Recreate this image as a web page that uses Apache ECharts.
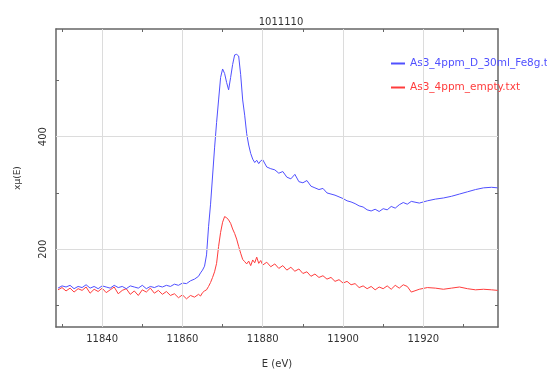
<!DOCTYPE html>
<html>
<head>
<meta charset="utf-8">
<script src="https://cdn.jsdelivr.net/npm/echarts@6/dist/echarts.min.js"></script>
<style>
  html, body { margin: 0; padding: 0; background: #fff; }
  #chart { width: 547px; height: 374px; }
</style>
</head>
<body>
<div id="chart"></div>
<script>
// energies (eV)
const energy = [
  11829, 11830, 11831, 11832, 11833, 11834, 11835, 11836, 11837, 11838,
  11839, 11840, 11841, 11842, 11843, 11844, 11845, 11846, 11847, 11848,
  11849, 11850, 11851, 11852, 11853, 11854, 11855, 11856, 11857, 11858,
  11859, 11860, 11861, 11862, 11863,
  11864, 11864.5, 11865, 11865.5, 11866, 11866.5, 11867, 11867.5, 11868, 11868.5,
  11869, 11869.5, 11870, 11870.5, 11871, 11871.5, 11872, 11872.5, 11873, 11873.5,
  11874, 11874.5, 11875, 11875.5, 11876, 11876.5, 11877, 11877.5, 11878, 11878.5,
  11879, 11879.5,
  11880, 11881, 11882, 11883, 11884, 11885, 11886, 11887, 11888, 11889,
  11890, 11891, 11892, 11893, 11894, 11895, 11896, 11897, 11898, 11899,
  11900, 11901, 11902, 11903, 11904, 11905, 11906, 11907, 11908, 11909,
  11910, 11911, 11912, 11913, 11914, 11915, 11916, 11917,
  11919, 11921, 11923, 11925, 11927, 11929, 11931, 11933, 11935, 11937, 11938.5
];

// As3_4ppm_D_30ml_Fe8g (blue)
const fe8g = [
  131, 135, 133, 136, 130, 134, 132, 137, 131, 134,
  130, 135, 133, 131, 136, 132, 134, 130, 135, 133,
  131, 136, 130, 134, 132, 135, 133, 136, 134, 138,
  136, 140, 139, 144, 147,
  152, 158, 163, 170, 190, 240, 280, 330, 380, 425,
  465, 505, 520, 512, 496, 483, 505, 528, 545, 546,
  543, 510, 465, 438, 405, 385, 370, 360, 354, 358,
  352, 357,
  359, 346, 343, 341, 335, 338, 328, 325, 333, 320,
  318, 322, 312, 309, 306, 308, 300, 298, 296, 293,
  290, 286, 284, 281, 277, 275, 270, 268, 271, 267,
  272, 270, 276, 273, 279, 283, 280, 285,
  282, 286, 289, 291, 294, 298, 302, 306, 309, 310, 309
];

// As3_4ppm_empty (red)
const empty = [
  128, 132, 126, 131, 124, 130, 127, 133, 122, 129,
  125, 131, 123, 128, 133, 121, 127, 130, 120, 126,
  118, 128, 124, 131, 122, 127, 120, 125, 118, 121,
  114, 119, 112, 118, 115,
  120, 117, 123, 126, 128, 134, 141, 150, 160, 175,
  205, 230, 248, 258, 256, 252, 246, 236, 228, 218,
  205, 193, 182, 178, 174, 179, 171, 181, 176, 186,
  175, 180,
  172, 177, 169, 174, 166, 171, 163, 168, 161, 165,
  157, 160, 152, 156, 150, 153, 147, 150, 143, 146,
  140, 143, 137, 139, 132, 135, 130, 134, 128, 133,
  130, 135, 129, 136, 131, 137, 134, 124,
  129, 132, 131, 129, 131, 133, 130, 128, 129, 128, 127
];

const xTicks = [11830, 11840, 11850, 11860, 11870, 11880, 11890, 11900, 11910, 11920, 11930];
const xLabels = [11840, 11860, 11880, 11900, 11920];
const yTicks = [100, 200, 300, 400, 500];
const yLabels = [200, 400];

const names = ['As3_4ppm_D_30ml_Fe8g.txt', 'As3_4ppm_empty.txt'];
const colors = ['#5050ff', '#ff3c3c'];

const chart = echarts.init(document.getElementById('chart'), null, { renderer: 'canvas' });

const frame = { show: true, onZero: false, lineStyle: { color: '#666', width: 1.5 } };
const font = 'DejaVu Sans';

const option = {
  animation: false,
  backgroundColor: '#fff',
  title: {
    text: '1011110',
    left: 276, textAlign: 'center', top: 12,
    textStyle: { fontSize: 10, fontWeight: 'normal', color: '#333', fontFamily: font }
  },
  legend: {
    orient: 'vertical',
    left: 386, top: 53,
    itemWidth: 14, itemHeight: 2, itemGap: 13,
    icon: 'rect',
    data: names.map((n, i) => ({ name: n, textStyle: { color: colors[i] } })),
    textStyle: { fontSize: 10.5, fontFamily: font }
  },
  grid: { left: 56, right: 49, top: 29, bottom: 41 },
  xAxis: [
    {
      type: 'value', min: 11828.5, max: 11938.6,
      name: 'E (eV)', nameLocation: 'middle', nameGap: 32,
      nameTextStyle: { fontSize: 10, color: '#333', fontFamily: font },
      axisLine: frame,
      axisTick: { inside: true, length: 3, customValues: xTicks, lineStyle: { color: '#666' } },
      axisLabel: {
        customValues: xLabels, fontSize: 10, color: '#333', margin: 7, fontFamily: font,
        formatter: v => String(v)
      },
      splitLine: { show: false }
    },
    {
      type: 'value', min: 11828.5, max: 11938.6, position: 'top',
      axisLine: frame,
      axisTick: { inside: true, length: 3, customValues: xTicks, lineStyle: { color: '#666' } },
      axisLabel: { show: false },
      splitLine: { show: false }
    }
  ],
  yAxis: [
    {
      type: 'value', min: 62, max: 591,
      name: 'x\u03bc(E)', nameLocation: 'middle', nameGap: 34,
      nameTextStyle: { fontSize: 9, color: '#333', fontFamily: font },
      axisLine: frame,
      axisTick: { inside: true, length: 3, customValues: yTicks, lineStyle: { color: '#666' } },
      axisLabel: { customValues: yLabels, rotate: 90, fontSize: 10, color: '#333', margin: 8, fontFamily: font },
      splitLine: { show: false }
    },
    {
      type: 'value', min: 62, max: 591, position: 'right',
      axisLine: frame,
      axisTick: { inside: true, length: 3, customValues: yTicks, lineStyle: { color: '#666' } },
      axisLabel: { show: false },
      splitLine: { show: false }
    }
  ],
  series: [
    {
      // grid lines
      type: 'line', data: [], silent: true, z: 1,
      markLine: {
        silent: true, symbol: 'none', animation: false,
        label: { show: false },
        lineStyle: { color: '#dcdcdc', type: 'solid', width: 1 },
        data: xLabels.map(v => ({ xAxis: v })).concat(yLabels.map(v => ({ yAxis: v })))
      }
    },
    {
      name: names[0], type: 'line', z: 3,
      data: energy.map((e, i) => [e, fe8g[i]]),
      showSymbol: false, lineStyle: { color: colors[0], width: 1 }, itemStyle: { color: colors[0] }
    },
    {
      name: names[1], type: 'line', z: 2,
      data: energy.map((e, i) => [e, empty[i]]),
      showSymbol: false, lineStyle: { color: colors[1], width: 1 }, itemStyle: { color: colors[1] }
    }
  ]
};

chart.setOption(option);
</script>
</body>
</html>
